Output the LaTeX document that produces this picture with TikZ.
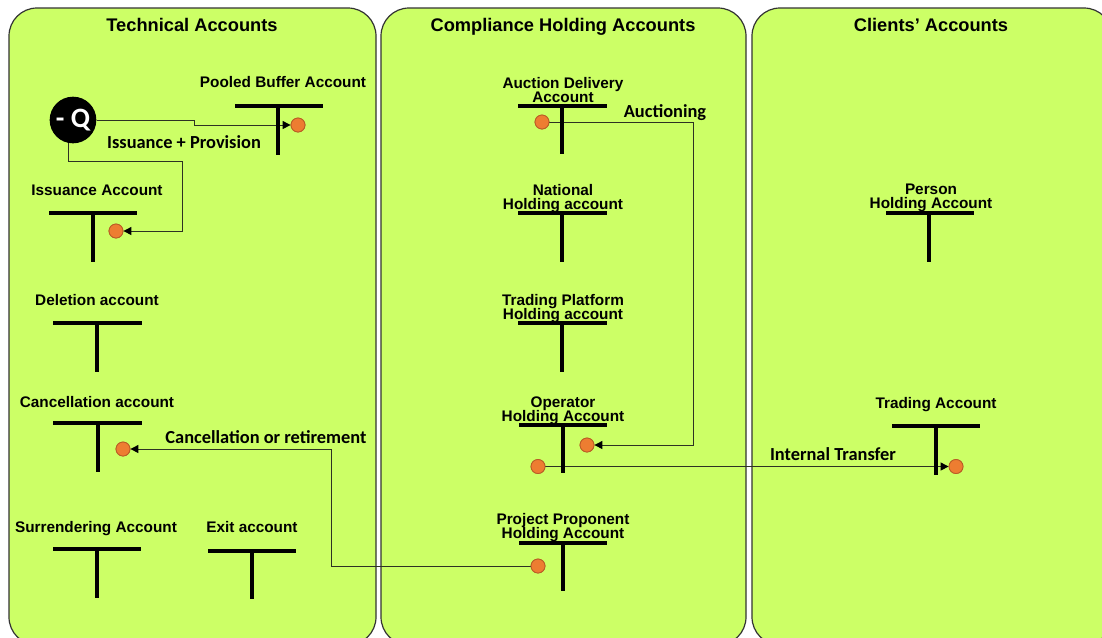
\documentclass[tikz,border=0pt]{standalone}
\usepackage{fontspec}
\setmainfont{Liberation Sans}
\newfontfamily\flowfont{Carlito}
\usetikzlibrary{arrows.meta}

\definecolor{panelgreen}{RGB}{204,255,102}
\definecolor{dotorange}{RGB}{237,125,49}
\definecolor{dotedge}{RGB}{185,92,38}
\definecolor{wire}{RGB}{45,50,35}

% keep two-line account labels at a fixed, tight line pitch
\newcommand\acctfont{\bfseries\fontsize{11.5}{10.3}\selectfont\lineskiplimit=-6pt\lineskip=0pt\relax}

\begin{document}
\begin{tikzpicture}[x=0.75pt,y=-0.75pt,
  panel/.style={draw=black!80, line width=0.9pt, fill=panelgreen, rounded corners=21pt},
  paneltitle/.style={anchor=base, inner sep=0pt, font=\bfseries\fontsize{13.7}{16}\selectfont},
  acct/.style={anchor=base, inner sep=0pt, align=center, font=\acctfont},
  flowlabel/.style={anchor=base, inner sep=0pt, font=\flowfont\bfseries\fontsize{13.8}{16}\selectfont},
  tbar/.style={line width=2.4pt, black},
  dot/.style={circle, fill=dotorange, draw=dotedge, line width=0.6pt, minimum size=10.5pt, inner sep=0pt},
  flow/.style={draw=wire, line width=0.75pt, -{Triangle[length=6pt,width=6pt,color=black]}},
  qnode/.style={circle, fill=black, minimum size=35pt, inner sep=0pt, text=white,
    font=\flowfont\bfseries\fontsize{21}{22}\selectfont}]

\useasboundingbox (0,0) rectangle (1102,637);
\clip (0,0) rectangle (1102,637);
\fill[white] (0,0) rectangle (1102,637);

% three account groups
\draw[panel] (9,8) rectangle (376,645);
\draw[panel] (381,8) rectangle (746,645);
\draw[panel] (752,8) rectangle (1112,645);

\node[paneltitle] (ttech) at (192,31) {Technical Accounts};
\node[paneltitle] (tcomp) at (563,31) {Compliance Holding Accounts};
\node[paneltitle] (tclient) at (931,31) {Clients’ Accounts};

% account labels (base = baseline of the last line)
\node[acct] (lpool) at (283,87) {Pooled Buffer Account};
\node[acct] (liss) at (97,195) {Issuance Account};
\node[acct] (ldel) at (97,305) {Deletion account};
\node[acct] (lcan) at (97,407) {Cancellation account};
\node[acct] (lsur) at (96,532) {Surrendering Account};
\node[acct] (lexit) at (252,532) {Exit account};
\node[acct] (lauc) at (563,102) {Auction Delivery\\Account};
\node[acct] (lnat) at (563,209) {National\\Holding account};
\node[acct] (ltpf) at (563,319) {Trading Platform\\Holding account};
\node[acct] (lop) at (563,421) {Operator\\Holding Account};
\node[acct] (lpp) at (563,538) {Project Proponent\\Holding Account};
\node[acct] (lper) at (931,208) {Person\\Holding Account};
\node[acct] (ltrd) at (936,408) {Trading Account};

% flow labels
\node[flowlabel] (fiss) at (184,148) {Issuance + Provision};
\node[flowlabel] (fauc) at (665,117) {Auctioning};
\node[flowlabel] (fcan) at (266,443) {Cancellation or retirement};
\node[flowlabel] (fint) at (833,460) {Internal Transfer};

% quantity source
\node[qnode] (q) at (73,120) {- Q};

% entry points on the accounts
\node[dot] (pbdot) at (298,125) {};
\node[dot] (issdot) at (116,231) {};
\node[dot] (candot) at (123,449) {};
\node[dot] (aucdot) at (542,122) {};
\node[dot] (opin) at (587,445) {};
\node[dot] (opout) at (538,466.5) {};
\node[dot] (ppdot) at (538,566) {};
\node[dot] (trddot) at (956,466.5) {};

% bends of the connectors
\coordinate (qstep) at (194,120);
\coordinate (issbend) at (182,161);
\coordinate (aucbend) at (693,122);
\coordinate (canbend) at (331,449);

% transfers
\draw[flow] (q.east) -- (qstep) |- (pbdot.west);
\draw[flow] (q.260) |- (issbend) |- (issdot.east);
\draw[flow] (aucdot.east) -- (aucbend) |- (opin.east);
\draw[flow] (opout.east) -- (trddot.west);
\draw[flow] (ppdot.west) -| (canbend) -- (candot.east);

% T accounts
\draw[tbar] (235,106) -- (323,106) (278,106) -- (278,155);
\draw[tbar] (49,213) -- (137,213) (93,213) -- (93,262);
\draw[tbar] (53,323) -- (142,323) (97,323) -- (97,372);
\draw[tbar] (53,423) -- (142,423) (98,423) -- (98,472);
\draw[tbar] (53,549) -- (141,549) (97,549) -- (97,598);
\draw[tbar] (208,551) -- (296,551) (252,551) -- (252,599);
\draw[tbar] (518,106) -- (607,106) (562,106) -- (562,154);
\draw[tbar] (518,213) -- (607,213) (562,213) -- (562,262);
\draw[tbar] (518,323) -- (607,323) (562,323) -- (562,372);
\draw[tbar] (519,425) -- (607,425) (563,425) -- (563,473);
\draw[tbar] (519,543) -- (607,543) (563,543) -- (563,591);
\draw[tbar] (886,213) -- (974,213) (929,213) -- (929,262);
\draw[tbar] (892,426) -- (980,426) (936,426) -- (936,475);

% dots drawn above the bars
\foreach \d in {pbdot,issdot,candot,aucdot,opin,opout,ppdot,trddot}
  \node[dot] at (\d) {};
\end{tikzpicture}
\end{document}
